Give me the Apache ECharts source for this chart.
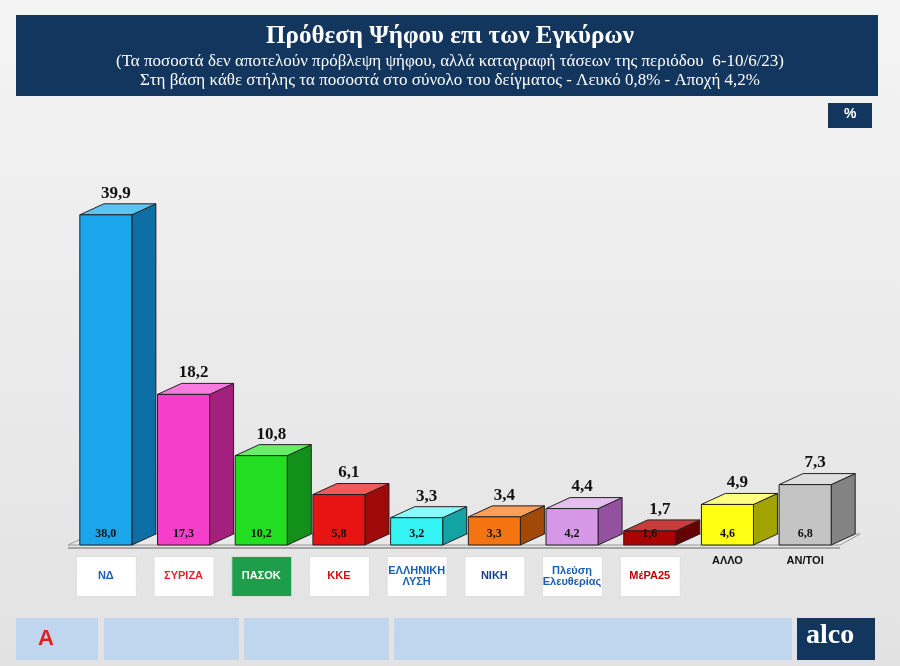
<!DOCTYPE html>
<html><head><meta charset="utf-8">
<script src="https://cdn.jsdelivr.net/npm/echarts@6/dist/echarts.min.js"></script>
<style>html,body{margin:0;padding:0;}#c{width:900px;height:666px;}</style>
</head><body><div id="c"></div>
<script>
const categories = ['ΝΔ','ΣΥΡΙΖΑ','ΠΑΣΟΚ','ΚΚΕ','ΕΛΛΗΝΙΚΗ ΛΥΣΗ','ΝΙΚΗ','Πλεύση Ελευθερίας','ΜέΡΑ25','ΑΛΛΟ','ΑΝ/ΤΟΙ'];
const validVotes = [39.9,18.2,10.8,6.1,3.3,3.4,4.4,1.7,4.9,7.3];
const sampleVotes = [38.0,17.3,10.2,5.8,3.2,3.3,4.2,1.6,4.6,6.8];
const frontColors = ['#1BA6EC','#F53FCB','#22DD22','#E81414','#33F3F3','#F47412','#D697E6','#A80404','#FFFF14','#C4C4C4'];
const sideColors  = ['#0E6FA6','#A3207F','#139019','#A00909','#13A3A3','#A14A08','#94519F','#650101','#A3A300','#838383'];
const topColors   = ['#5CC4F4','#F97ADF','#66EE66','#F25A5A','#8AF8F8','#F8A05A','#E6BDEF','#C83C3C','#FFFF80','#DEDEDE'];

const fmt = v => v.toFixed(1).replace('.', ',');
const chart = echarts.init(document.getElementById('c'));
const DX = 24, DY = 11;

function renderItem(params, api) {
  const i = api.value(0), v = api.value(1);
  const top = api.coord([i, v]), base = api.coord([i, 0]);
  const w = api.size([1, 0])[0] * 0.67;
  const x0 = top[0] - w / 2 - 1, x1 = x0 + w, yT = top[1], yB = base[1];
  const c = [];
  c.push({type:'polygon',shape:{points:[[x1,yT],[x1+DX,yT-DY],[x1+DX,yB-DY],[x1,yB]]},style:{fill:sideColors[i],stroke:'#222',lineWidth:1}});
  c.push({type:'polygon',shape:{points:[[x0,yT],[x0+DX,yT-DY],[x1+DX,yT-DY],[x1,yT]]},style:{fill:topColors[i],stroke:'#222',lineWidth:1}});
  c.push({type:'rect',shape:{x:x0,y:yT,width:w,height:yB-yT},style:{fill:frontColors[i],stroke:'#222',lineWidth:1}});
  c.push({type:'text',style:{text:fmt(v),x:x0+w/2+10,y:yT-DY-2,align:'center',verticalAlign:'bottom',font:'bold 17px "Liberation Serif"',fill:'#111'}});
  c.push({type:'text',style:{text:fmt(sampleVotes[i]),x:x0+w/2,y:yB-5,align:'center',verticalAlign:'bottom',font:'bold 12px "Liberation Serif"',fill:'#111'}});
  return {type:'group',children:c};
}

const logoTexts = ['ΝΔ','ΣΥΡΙΖΑ','ΠΑΣΟΚ','ΚΚΕ','ΕΛΛΗΝΙΚΗ\nΛΥΣΗ','ΝΙΚΗ','Πλεύση\nΕλευθερίας','ΜέΡΑ25','ΑΛΛΟ','ΑΝ/ΤΟΙ'];
const logoFg = ['#1A5FB4','#E0262E','#fff','#D41010','#1A5FB4','#1A3F8A','#1A5FB4','#C00000','#111','#111'];
const logoBg = ['#fff','#fff','#1E9E4A','#fff','#fff','#fff','#fff','#fff',null,null];

chart.setOption({
  backgroundColor: new echarts.graphic.LinearGradient(0,0,0,1,[{offset:0,color:'#F4F4F4'},{offset:1,color:'#E2E2E2'}]),
  grid:{left:68,right:55,top:214,bottom:121},
  xAxis:{type:'category',data:categories,show:false},
  yAxis:{type:'value',min:0,max:40,show:false},
  series:[{type:'custom',renderItem,data:validVotes.map((v,i)=>[i,v]),z:5}],
  graphic:[
    {type:'rect',left:16,top:15,shape:{width:862,height:81},style:{fill:'#12365E'}},
    {type:'text',left:'center',top:24,style:{text:'Πρόθεση Ψήφου επι των Εγκύρων',font:'bold 25px "Liberation Serif"',fill:'#fff'}},
    {type:'text',left:'center',top:53,style:{text:'(Τα ποσοστά δεν αποτελούν πρόβλεψη ψήφου, αλλά καταγραφή τάσεων της περιόδου  6-10/6/23)',font:'17px "Liberation Serif"',fill:'#fff'}},
    {type:'text',left:'center',top:72,style:{text:'Στη βάση κάθε στήλης τα ποσοστά στο σύνολο του δείγματος - Λευκό 0,8% - Αποχή 4,2%',font:'17px "Liberation Serif"',fill:'#fff'}},
    {type:'rect',left:828,top:103,shape:{width:44,height:25},style:{fill:'#12365E'}},
    {type:'text',left:844,top:107,style:{text:'%',font:'bold 14px "Liberation Sans"',fill:'#fff'}},
    {type:'polygon',shape:{points:[[68,545],[92,534],[860,534],[840,545]]},style:{fill:'#E8E8E8',stroke:'#999',lineWidth:1},z:1},
    {type:'line',shape:{x1:68,y1:548,x2:840,y2:548},style:{stroke:'#666',lineWidth:1}},
    ...logoTexts.map((t,i)=>{
      const cx = 68 + 77.7*(i+0.5) - 1;
      const items = [];
      if (logoBg[i]) items.push({type:'rect',left:cx-30,top:556,shape:{width:60,height:40},style:{fill:logoBg[i],stroke:'#ddd'}});
      items.push({type:'text',x:cx,y:logoBg[i]?576:561,style:{text:t,align:'center',verticalAlign:'middle',font:'bold 11px "Liberation Sans"',fill:logoFg[i]}});
      return {type:'group',children:items};
    }),
    {type:'rect',left:16,top:618,shape:{width:82,height:42},style:{fill:'#BFD6EE'}},
    {type:'text',left:38,top:628,style:{text:'Α',font:'bold 22px "Liberation Sans"',fill:'#E02020'}},
    {type:'rect',left:104,top:618,shape:{width:135,height:42},style:{fill:'#BFD6EE'}},
    {type:'rect',left:244,top:618,shape:{width:145,height:42},style:{fill:'#BFD6EE'}},
    {type:'rect',left:394,top:618,shape:{width:398,height:42},style:{fill:'#BFD6EE'}},
    {type:'rect',left:797,top:618,shape:{width:78,height:42},style:{fill:'#12365E'}},
    {type:'text',left:806,top:622,style:{text:'alco',font:'bold 28px "Liberation Serif"',fill:'#fff'}}
  ]
});
</script></body></html>
